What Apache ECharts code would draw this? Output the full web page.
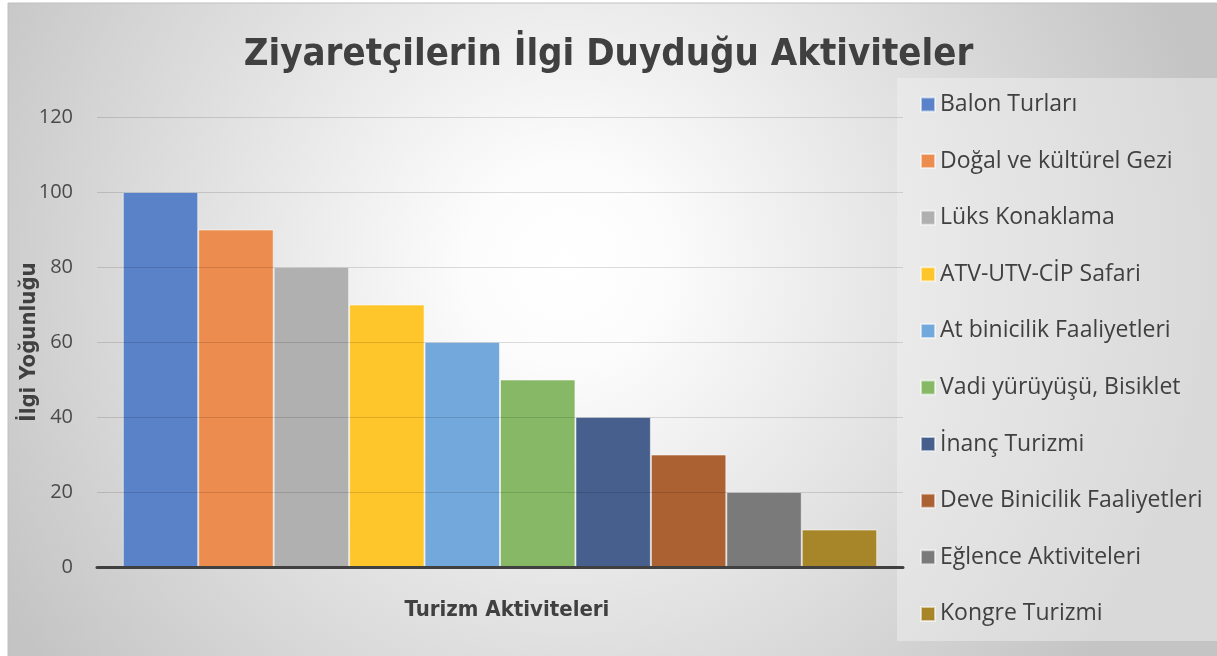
<!DOCTYPE html>
<html>
<head>
<meta charset="utf-8">
<script src="https://cdn.jsdelivr.net/npm/echarts@6/dist/echarts.min.js"></script>
<style>
  html, body { margin: 0; padding: 0; background: #ffffff; }
  #main { width: 1217px; height: 656px; }
</style>
</head>
<body>
<div id="main"></div>
<script>
// veriler
var activities = [
  'Balon Turları',
  'Doğal ve kültürel Gezi',
  'Lüks Konaklama',
  'ATV-UTV-CİP Safari',
  'At binicilik Faaliyetleri',
  'Vadi yürüyüşü, Bisiklet',
  'İnanç Turizmi',
  'Deve Binicilik Faaliyetleri',
  'Eğlence Aktiviteleri',
  'Kongre Turizmi'
];
var interest = [100, 90, 80, 70, 60, 50, 40, 30, 20, 10];
var palette = ['#5a82c8', '#ec8c4e', '#b0b0b0', '#fec62a', '#72a8db',
  '#86b866', '#475f8d', '#ab6131', '#7a7a7a', '#a68629'];

var titleFont = '"Liberation Sans Narrow", "DejaVu Sans Condensed", "Open Sans", sans-serif';
var bodyFont = '"Open Sans", "Noto Sans", sans-serif';

var chart = echarts.init(document.getElementById('main'), null, { renderer: 'canvas' });

var series = [];
for (var i = 0; i < activities.length; i++) {
  series.push({
    name: activities[i],
    type: 'bar',
    data: [interest[i]],
    barGap: 0,
    barCategoryGap: '6.4%',
    itemStyle: {
      color: palette[i],
      borderColor: 'rgba(255,255,255,0.55)',
      borderWidth: 1
    }
  });
}

var option = {
  backgroundColor: '#ffffff',
  color: palette,
  animation: false,
  graphic: [
    {
      type: 'rect',
      z: -10,
      shape: { x: 8, y: 3, width: 1212, height: 656 },
      style: {
        fill: {
          type: 'radial', x: 0.46, y: 0.4, r: 1.0,
          colorStops: [
            { offset: 0, color: '#ffffff' },
            { offset: 0.15, color: '#fcfcfc' },
            { offset: 1, color: '#c4c4c4' }
          ]
        },
        stroke: '#c0c0c0',
        lineWidth: 1
      }
    },
    {
      type: 'rect',
      z: -5,
      shape: { x: 897, y: 78, width: 330, height: 563 },
      style: { fill: 'rgba(242,242,242,0.46)' }
    }
  ],
  title: {
    text: 'Ziyaretçilerin İlgi Duyduğu Aktiviteler',
    left: 'center',
    top: 31,
    textStyle: {
      fontFamily: titleFont,
      fontWeight: 'bold',
      fontSize: 38,
      color: '#404040'
    }
  },
  legend: {
    orient: 'vertical',
    left: 920,
    top: 93,
    padding: 0,
    itemWidth: 14,
    itemHeight: 14,
    itemGap: 33.6,
    itemTextGap: 6,
    icon: 'rect',
    textStyle: {
      fontFamily: bodyFont,
      fontSize: 23,
      lineHeight: 23,
      color: '#404040'
    },
    data: activities
  },
  grid: {
    left: 97,
    right: 314,
    top: 117,
    bottom: 89
  },
  xAxis: {
    type: 'category',
    data: [''],
    z: 3,
    axisLine: { lineStyle: { color: '#404040', width: 3 } },
    axisTick: { show: false },
    axisLabel: { show: false },
    name: 'Turizm Aktiviteleri',
    nameLocation: 'middle',
    nameGap: 32,
    nameTextStyle: {
      fontFamily: titleFont,
      fontWeight: 'bold',
      fontSize: 22,
      color: '#404040',
      padding: [0, 0, 0, 14]
    }
  },
  yAxis: {
    type: 'value',
    min: 0,
    max: 120,
    interval: 20,
    z: 3,
    axisLine: { show: false },
    axisTick: { show: false },
    axisLabel: {
      margin: 24,
      fontFamily: bodyFont,
      fontSize: 20,
      color: '#4a4a4a'
    },
    splitLine: { lineStyle: { color: 'rgba(0,0,0,0.13)', width: 1 } },
    name: 'İlgi Yoğunluğu',
    nameLocation: 'middle',
    nameGap: 57,
    nameMoveOverlap: false,
    nameTextStyle: {
      fontFamily: titleFont,
      fontWeight: 'bold',
      fontSize: 22,
      color: '#404040'
    }
  },
  series: series
};

chart.setOption(option);
</script>
</body>
</html>
